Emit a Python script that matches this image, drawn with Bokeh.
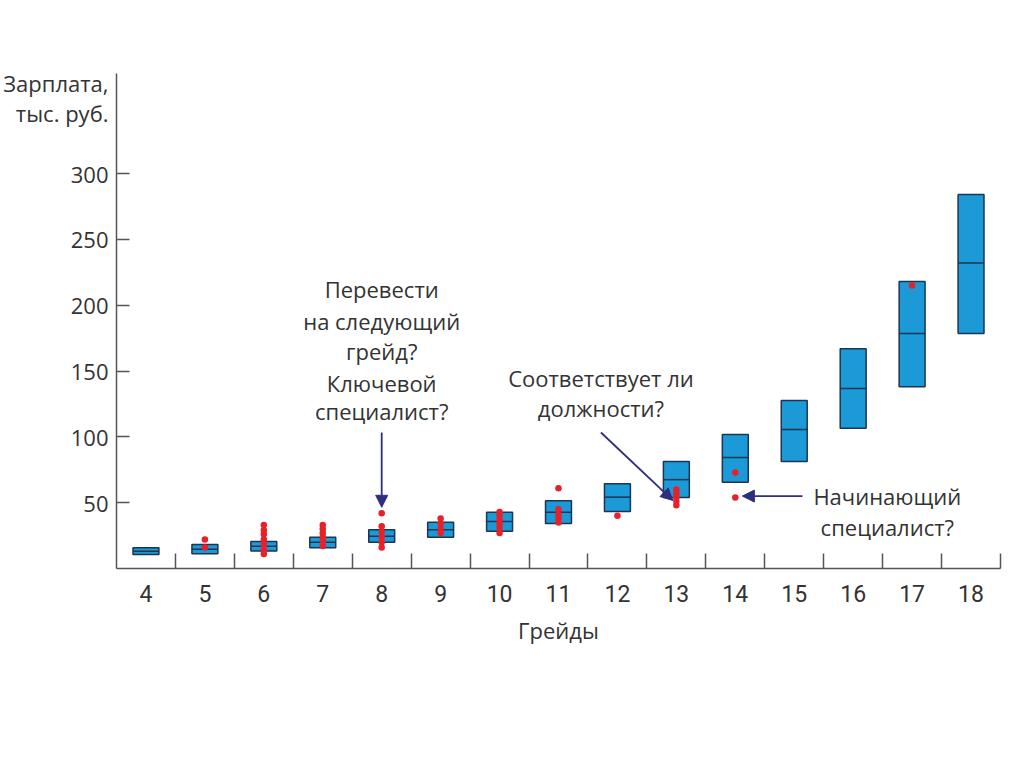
import numpy as np
from bokeh.plotting import figure
from bokeh.models import FixedTicker, Label, Arrow, NormalHead, Range1d
from bokeh.embed import file_html
from bokeh.resources import INLINE

# ---- data ----
grades = [4, 5, 6, 7, 8, 9, 10, 11, 12, 13, 14, 15, 16, 17, 18]
band_low = [10.6, 11.2, 13.2, 15.7, 20.0, 23.8, 28.3, 34.2, 43.3, 54.0, 65.6, 81.3, 106.6, 138.0, 178.6]
band_high = [15.7, 18.2, 20.5, 23.8, 29.4, 35.2, 42.8, 51.4, 64.4, 81.3, 101.8, 127.7, 167.0, 218.0, 284.0]
band_mid = [13.1, 14.7, 16.9, 20.0, 24.5, 29.4, 35.7, 42.8, 54.2, 67.5, 84.3, 105.6, 136.8, 178.6, 232.0]

emp_grade = [5, 5,
             6, 6, 6, 6, 6, 6, 6,
             7, 7, 7, 7, 7, 7,
             8, 8, 8, 8, 8, 8,
             9, 9, 9, 9,
             10, 10, 10, 10, 10, 10,
             11, 11, 11, 11, 11,
             12,
             13, 13, 13, 13, 13,
             14, 14,
             17]
emp_salary = [22, 16,
              33, 29, 26, 22, 18, 14, 11,
              33, 30, 27, 24, 21, 17,
              42, 32, 28, 24, 20, 16,
              38, 34, 30, 27,
              43, 40, 37, 34, 31, 27,
              61, 45, 41, 38, 35,
              40,
              60, 57, 54, 51, 48,
              73, 54,
              215]

y_ticks = [50, 100, 150, 200, 250, 300]
y_title_lines = {369: "Зарплата,", 346: "тыс. руб."}

FONT = "Open Sans"
TXT = "#333333"
BLUE = "#1b9ad7"
EDGE = "#1d3550"
RED = "#e8202a"
NAVY = "#2e2e80"
AX = "#555555"

p = figure(width=1016, height=703, output_backend="svg", toolbar_location=None,
           x_range=Range1d(3.5, 18.5), y_range=Range1d(0, 376),
           min_border_left=115, min_border_right=16, min_border_top=73, min_border_bottom=135)
p.outline_line_color = None
p.xgrid.visible = False
p.ygrid.visible = False

bw = 0.44
g = np.array(grades, dtype=float)
p.vbar(x=grades, width=bw, bottom=band_low, top=band_high,
       fill_color=BLUE, line_color=EDGE, line_width=1.5)
p.segment(x0=g - bw / 2, x1=g + bw / 2, y0=band_mid, y1=band_mid,
          line_color=EDGE, line_width=1.5)
p.scatter(x=emp_grade, y=emp_salary, size=6.5, fill_color=RED, line_color=None)

# x axis
p.xaxis.ticker = FixedTicker(ticks=grades, minor_ticks=[x + 0.5 for x in grades])
p.xaxis.major_tick_line_color = None
p.xaxis.major_tick_in = 0
p.xaxis.major_tick_out = 0
p.xaxis.minor_tick_in = 15
p.xaxis.minor_tick_out = 0
p.xaxis.minor_tick_line_color = AX
p.xaxis.minor_tick_line_width = 1.5
p.xaxis.axis_line_color = AX
p.xaxis.axis_line_width = 1.5
p.xaxis.major_label_text_font = "Roboto"
p.xaxis.major_label_text_font_size = "23px"
p.xaxis.major_label_text_color = TXT
p.xaxis.major_label_standoff = 16
p.xaxis.axis_label = "Грейды"
p.xaxis.axis_label_text_font = FONT
p.xaxis.axis_label_text_font_style = "normal"
p.xaxis.axis_label_text_font_size = "22px"
p.xaxis.axis_label_text_color = TXT
p.xaxis.axis_label_standoff = 10

# y axis (title lines placed as labels at the top of the axis, no tick marks there)
p.yaxis.ticker = FixedTicker(ticks=y_ticks + list(y_title_lines.keys()), minor_ticks=y_ticks)
p.yaxis.major_label_overrides = y_title_lines
p.yaxis.major_tick_line_color = None
p.yaxis.major_tick_in = 0
p.yaxis.major_tick_out = 0
p.yaxis.minor_tick_in = 13
p.yaxis.minor_tick_out = 0
p.yaxis.minor_tick_line_color = AX
p.yaxis.minor_tick_line_width = 1.5
p.yaxis.axis_line_color = AX
p.yaxis.axis_line_width = 1.5
p.yaxis.major_label_text_font = FONT
p.yaxis.major_label_text_font_size = "22px"
p.yaxis.major_label_text_color = TXT
p.yaxis.major_label_standoff = 8

def lab(x, y, text, align="center"):
    p.add_layout(Label(x=x, y=y, text=text, text_font=FONT, text_font_size="22px",
                       text_color=TXT, text_align=align, text_baseline="middle"))

# annotation 1
for yy, t in zip([212, 188, 165, 141, 120],
                 ["Перевести", "на следующий", "грейд?", "Ключевой", "специалист?"]):
    lab(8.0, yy, t)
# annotation 2
for yy, t in zip([144.4, 121.6], ["Соответствует ли", "должности?"]):
    lab(11.72, yy, t)
# annotation 3
for yy, t in zip([54.7, 31.2], ["Начинающий", "специалист?"]):
    lab(16.58, yy, t)

def arrow(x0, y0, x1, y1):
    p.add_layout(Arrow(x_start=x0, y_start=y0, x_end=x1, y_end=y1,
                       line_color=NAVY, line_width=1.8,
                       end=NormalHead(size=12, fill_color=NAVY, line_color=NAVY)))

arrow(8.0, 103.3, 8.0, 46.5)
arrow(11.72, 103.3, 12.94, 51.7)
arrow(15.14, 55.0, 14.12, 55.0)

open("out.html", "w").write(file_html(p, INLINE))
